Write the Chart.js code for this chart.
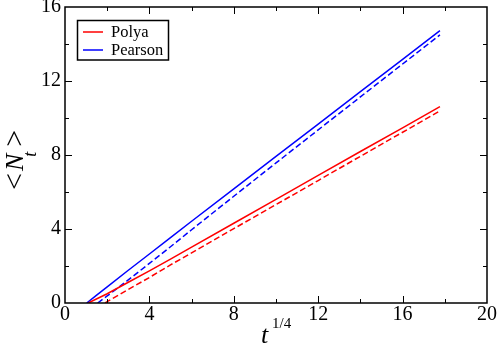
<!DOCTYPE html>
<html><head><meta charset="utf-8">
<script src="https://cdn.jsdelivr.net/npm/chart.js@4/dist/chart.umd.min.js"></script>
<style>html,body{margin:0;padding:0;background:#fff}</style>
</head><body>
<canvas id="c" width="498" height="355"></canvas>
<script>
// ---- data ----
const seriesNames = ['Polya', 'Pearson'];
const xTicks = [0, 4, 8, 12, 16, 20];
const yTicks = [0, 4, 8, 12, 16];

const polyaSolidX  = [1.1, 2, 3, 4, 5, 6, 8, 10, 12, 14, 16, 17.77];
const polyaSolidY  = [0, 0.5, 1.12, 1.74, 2.37, 3.02, 4.31, 5.6, 6.9, 8.19, 9.47, 10.61];
const polyaDashX   = [1.9, 2, 3, 4, 5, 6, 8, 10, 12, 14, 16, 17.77];
const polyaDashY   = [0, 0.07, 0.73, 1.38, 2.06, 2.71, 4.02, 5.32, 6.62, 7.93, 9.23, 10.38];
const pearsonSolidX = [1.03, 1.5, 2, 3, 4, 5, 6, 8, 10, 12, 14, 16, 17.77];
const pearsonSolidY = [0, 0.43, 0.87, 1.77, 2.65, 3.53, 4.42, 6.17, 7.93, 9.67, 11.43, 13.17, 14.72];
const pearsonDashX  = [1.55, 2, 3, 4, 5, 6, 8, 10, 12, 14, 16, 17.77];
const pearsonDashY  = [0, 0.38, 1.25, 2.14, 3.04, 3.96, 5.77, 7.57, 9.36, 11.14, 12.92, 14.49];

const RED = '#ff0000', BLUE = '#0000ff';
const pts = (xs, ys) => xs.map((x, i) => ({x, y: ys[i]}));

const SERIF = '"Liberation Serif", "DejaVu Serif", serif';

const framePlugin = {
  id: 'frame',
  afterDraw(chart) {
    const ctx = chart.ctx, a = chart.chartArea;
    const xs = chart.scales.x, ys = chart.scales.y;
    ctx.save();
    ctx.strokeStyle = '#000';
    ctx.lineWidth = 1.5;
    ctx.strokeRect(a.left, a.top, a.right - a.left, a.bottom - a.top);
    ctx.lineWidth = 1;
    ctx.beginPath();
    for (let v = 2; v < 20; v += 2) {
      const p = Math.round(xs.getPixelForValue(v)) + 0.5;
      const len = v % 4 === 0 ? 7 : 4;
      ctx.moveTo(p, a.bottom); ctx.lineTo(p, a.bottom - len);
      ctx.moveTo(p, a.top); ctx.lineTo(p, a.top + len);
    }
    for (let v = 2; v < 16; v += 2) {
      const p = Math.round(ys.getPixelForValue(v)) + 0.5;
      const len = v % 4 === 0 ? 7 : 4;
      ctx.moveTo(a.left, p); ctx.lineTo(a.left + len, p);
      ctx.moveTo(a.right, p); ctx.lineTo(a.right - len, p);
    }
    ctx.stroke();

    // legend
    const lx = 77.5, ly = 20.5, lw = 91, lh = 39.5;
    ctx.fillStyle = '#fff';
    ctx.fillRect(lx, ly, lw, lh);
    ctx.lineWidth = 1.5;
    ctx.strokeStyle = '#000';
    ctx.strokeRect(lx, ly, lw, lh);
    const entries = chart.data.datasets.filter(d => !d.hideInLegend);
    entries.forEach((d, i) => {
      const yy = 32 + i * 18;
      ctx.strokeStyle = d.borderColor;
      ctx.lineWidth = 1.5;
      ctx.beginPath(); ctx.moveTo(83, yy); ctx.lineTo(103, yy); ctx.stroke();
      ctx.fillStyle = '#000';
      ctx.font = '16.5px ' + SERIF;
      ctx.textBaseline = 'middle';
      ctx.textAlign = 'left';
      ctx.fillText(d.label, 111, yy + 1);
    });

    // x title: t^{1/4}
    ctx.fillStyle = '#000';
    ctx.textBaseline = 'alphabetic';
    ctx.textAlign = 'left';
    ctx.font = 'italic 26px ' + SERIF;
    ctx.fillText('t', 261, 343);
    ctx.font = '15px ' + SERIF;
    ctx.fillText('1/4', 272, 328);

    // y title: <N_t>
    ctx.save();
    ctx.translate(23, 189);
    ctx.rotate(-Math.PI / 2);
    ctx.font = '30px ' + SERIF;
    ctx.fillText('<', -1, 1);
    let xOff = ctx.measureText('<').width + 1;
    ctx.font = 'italic 26px ' + SERIF;
    ctx.fillText('N', xOff, 0);
    xOff += ctx.measureText('N').width;
    ctx.font = 'italic 18px ' + SERIF;
    ctx.fillText('t', xOff - 3, 13);
    xOff += ctx.measureText('t').width + 2;
    ctx.font = '30px ' + SERIF;
    ctx.fillText('>', xOff, 1);
    ctx.restore();

    ctx.restore();
  }
};

new Chart(document.getElementById('c'), {
  type: 'scatter',
  data: {
    datasets: [
      {label: seriesNames[0], data: pts(polyaSolidX, polyaSolidY), borderColor: RED},
      {label: seriesNames[1], data: pts(pearsonSolidX, pearsonSolidY), borderColor: BLUE},
      {label: seriesNames[0] + ' (dashed)', data: pts(polyaDashX, polyaDashY), borderColor: RED, borderDash: [6, 3], hideInLegend: true},
      {label: seriesNames[1] + ' (dashed)', data: pts(pearsonDashX, pearsonDashY), borderColor: BLUE, borderDash: [6, 3], hideInLegend: true}
    ].map(d => Object.assign({showLine: true, pointRadius: 0, borderWidth: 1.5, fill: false, tension: 0}, d))
  },
  options: {
    responsive: false,
    animation: false,
    devicePixelRatio: 1,
    layout: {padding: {left: 0, right: 11, top: 7, bottom: 0}},
    plugins: {legend: {display: false}, tooltip: {enabled: false}},
    scales: {
      x: {
        type: 'linear', min: 0, max: 20,
        afterFit(s) { s.height = 52; s.paddingLeft = 0; s.paddingRight = 0; },
        afterBuildTicks(s) { s.ticks = xTicks.map(v => ({value: v})); },
        grid: {display: false, drawTicks: false},
        border: {display: false},
        ticks: {color: '#000', font: {family: SERIF, size: 20}, padding: 0, maxRotation: 0, autoSkip: false}
      },
      y: {
        type: 'linear', min: 0, max: 16,
        afterFit(s) { s.width = 65; s.paddingTop = 0; s.paddingBottom = 0; },
        afterBuildTicks(s) { s.ticks = yTicks.map(v => ({value: v})); },
        grid: {display: false, drawTicks: false},
        border: {display: false},
        ticks: {color: '#000', font: {family: SERIF, size: 20}, padding: 4, autoSkip: false}
      }
    }
  },
  plugins: [framePlugin]
});
</script>
</body></html>
